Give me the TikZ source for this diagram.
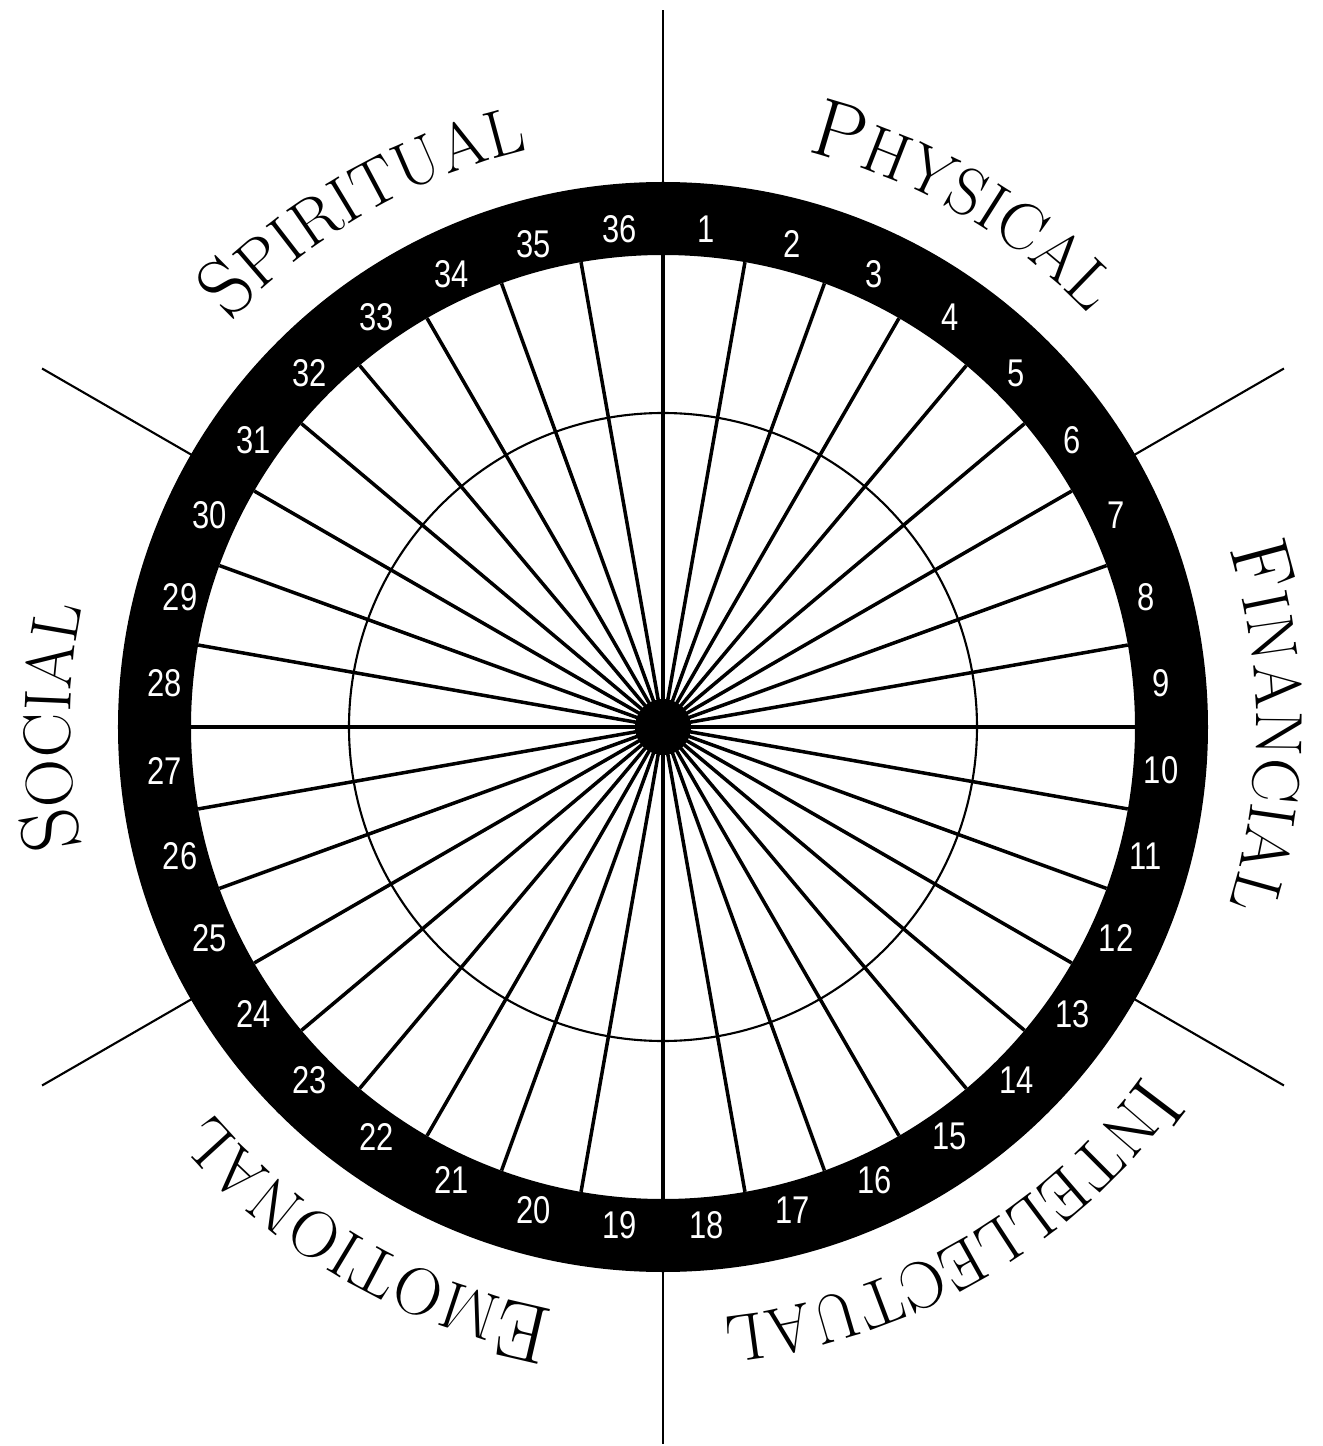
\documentclass[tikz,border=0pt]{standalone}
\usepackage{fontspec}
\newfontfamily\numfont[FakeStretch=0.8]{Liberation Sans}
\usetikzlibrary{decorations.text}

\newcommand\lblbig{\fontsize{23.5}{23.5}\selectfont\addfontfeature{FakeBold=0.6}}
\newcommand\lblsmall{\fontsize{19}{19}\selectfont\addfontfeature{FakeBold=0.6}}

\begin{document}
\begin{tikzpicture}[
    spoke/.style={line width=1pt},
    divider/.style={line width=0.6pt},
    num/.style={text=white, font=\numfont\fontsize{11}{11}\selectfont, inner sep=0pt},
    area/.style={decorate, decoration={text along path, text align=center, text={#1}}}
]
\useasboundingbox (-6.63,-7.19) rectangle (6.60,7.27);

% dividers between the six areas
\foreach \a in {90,30,-30,-90,-150,150}
    \draw[divider] (\a:5.4) -- (\a:7.17);

% wheel
\foreach \a in {0,10,...,350}
    \draw[spoke] (0,0) -- (\a:4.72);
\draw[line width=0.6pt] (0,0) circle (3.14);
\fill (0,0) circle (0.28);
\fill[even odd rule] (0,0) circle (5.45) circle (4.72);
\foreach \k in {1,...,36}
    \node[num] (n\k) at ({95-10*\k}:5.0) {\k};

% area labels
\path[area={|\lblbig|P|\lblsmall|HYSICAL}] (90:5.93) arc[start angle=90, end angle=30, radius=5.93];
\path[area={|\lblbig|F|\lblsmall|INANCIAL}] (30:5.93) arc[start angle=30, end angle=-30, radius=5.93];
\path[area={|\lblbig|I|\lblsmall|NTELLECTUAL}] (-30:5.93) arc[start angle=-30, end angle=-90, radius=5.93];
\path[area={|\lblbig|E|\lblsmall|MOTIONAL}] (-90:5.93) arc[start angle=-90, end angle=-150, radius=5.93];
\path[area={|\lblbig|S|\lblsmall|OCIAL}] (-150:5.93) arc[start angle=210, end angle=150, radius=5.93];
\path[area={|\lblbig|S|\lblsmall|PIRITUAL}] (150:5.93) arc[start angle=150, end angle=90, radius=5.93];
\end{tikzpicture}
\end{document}
